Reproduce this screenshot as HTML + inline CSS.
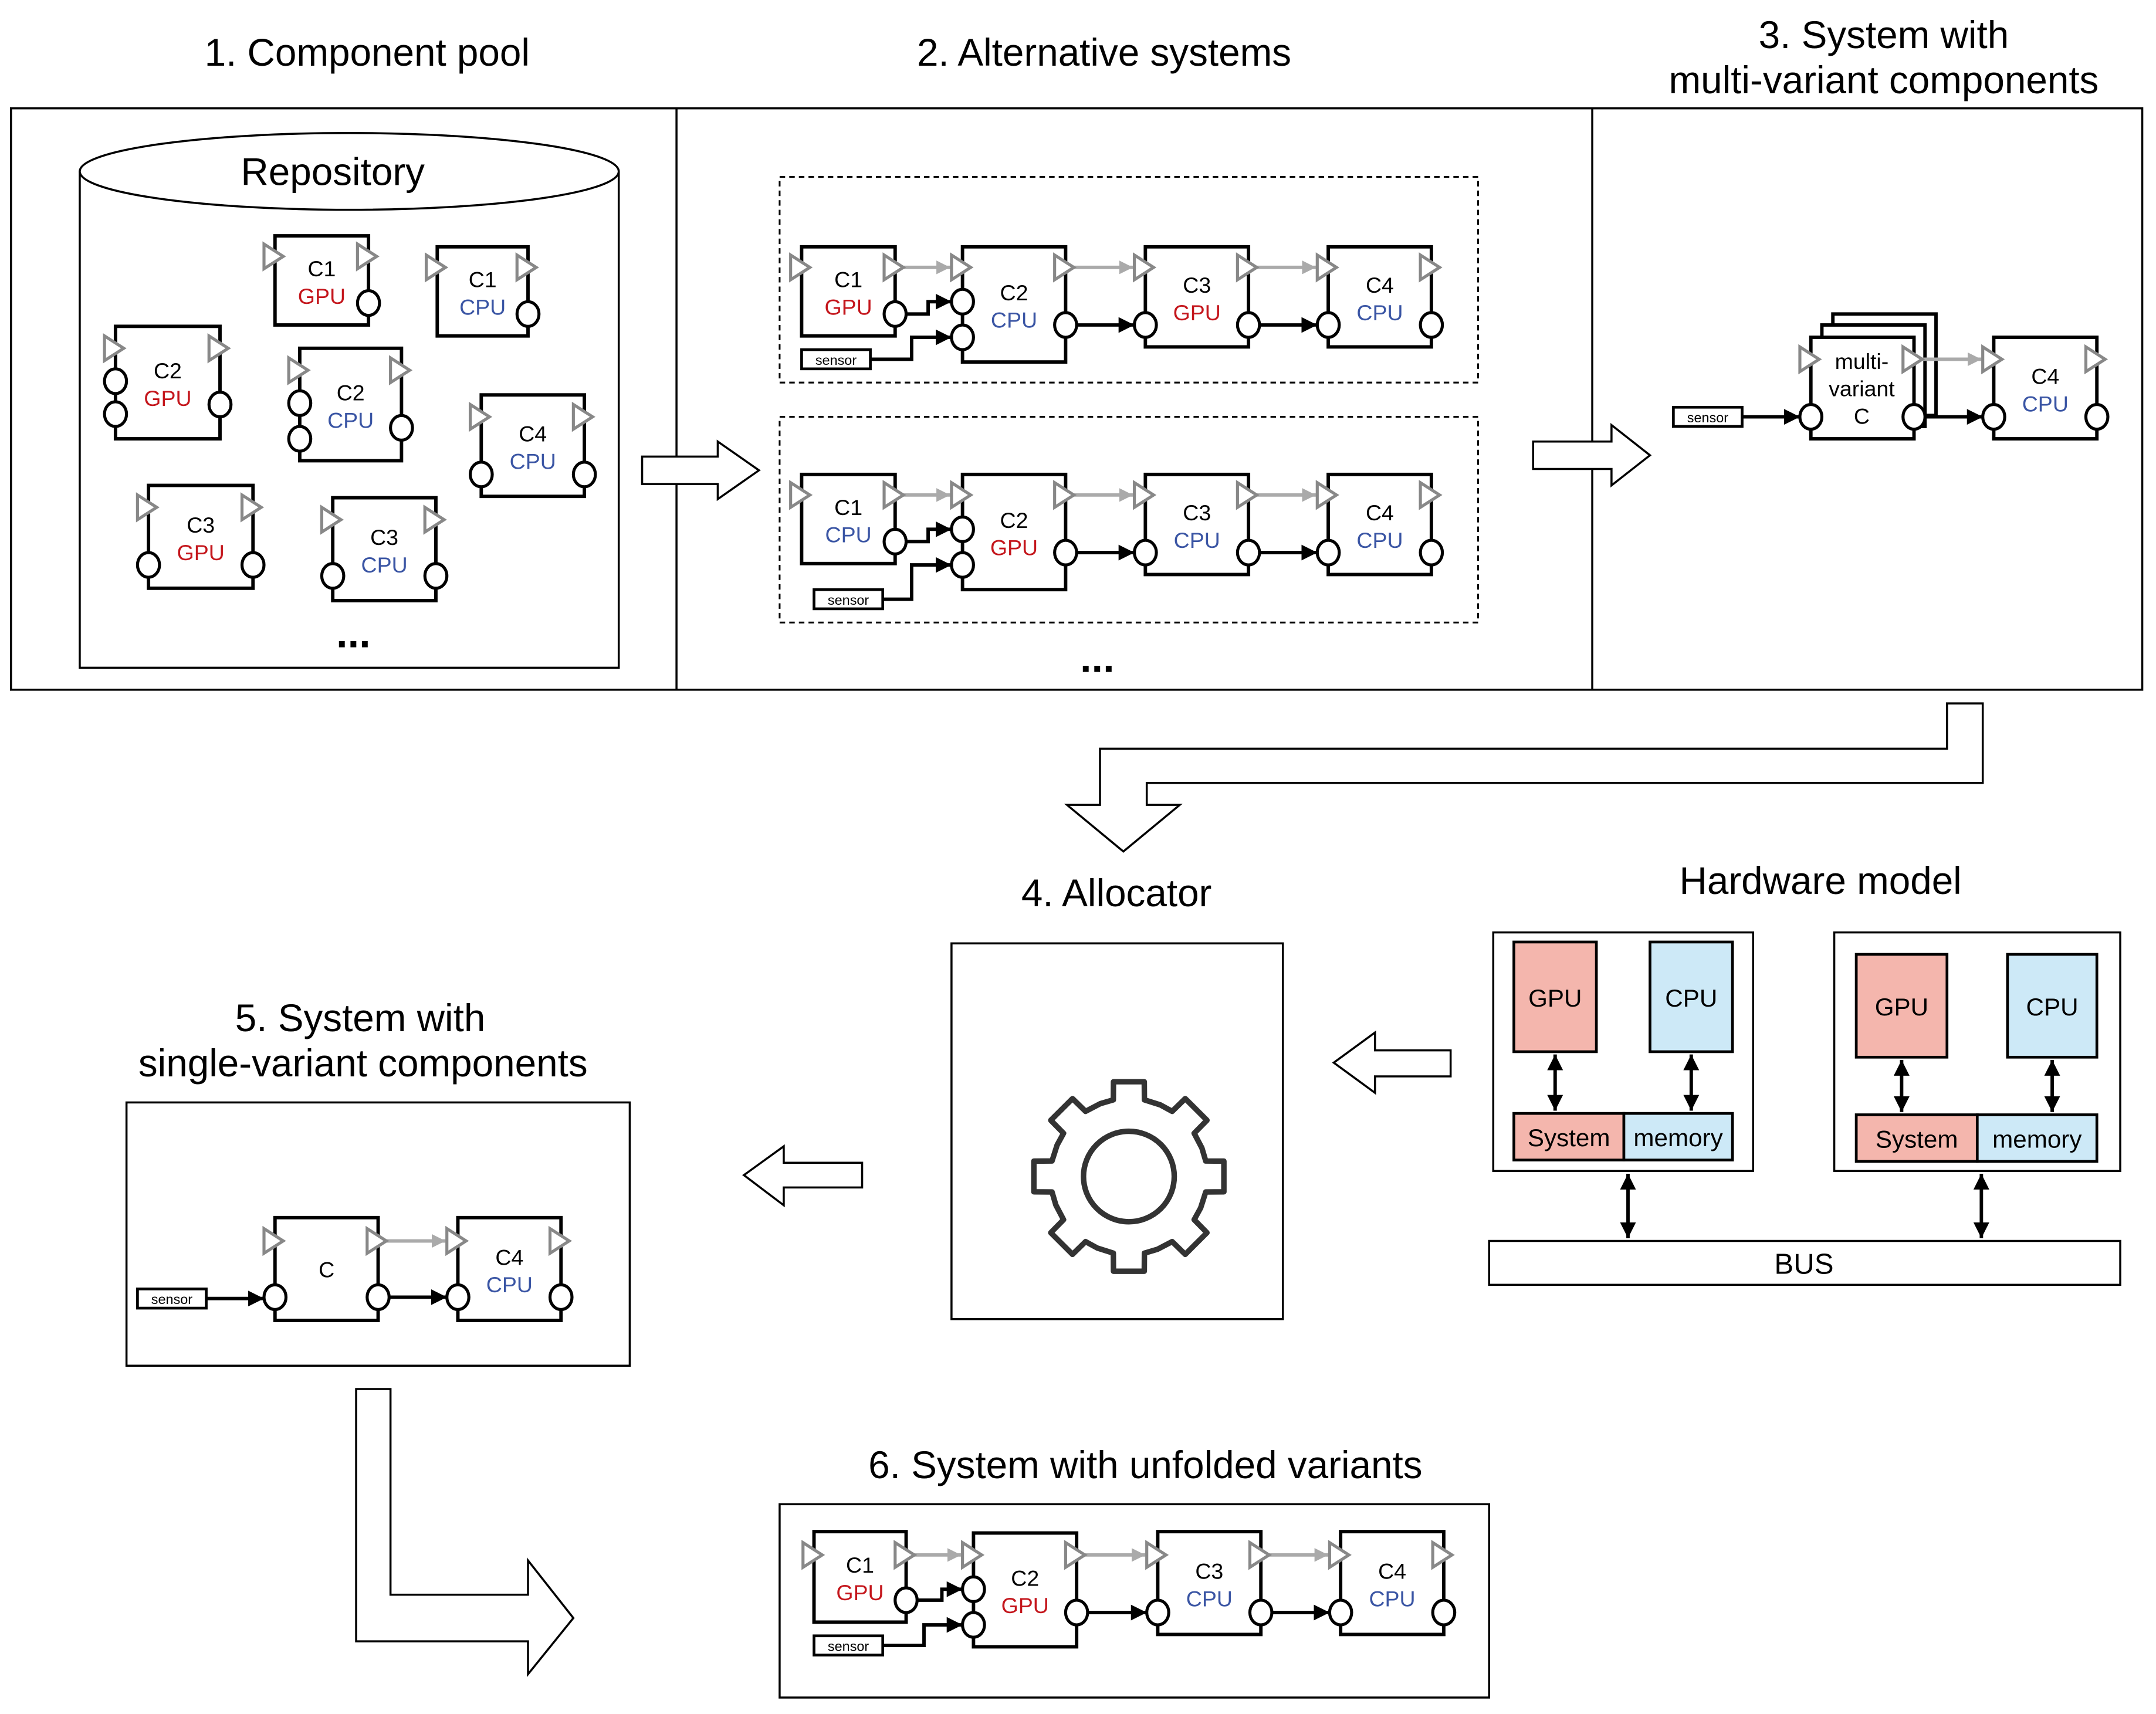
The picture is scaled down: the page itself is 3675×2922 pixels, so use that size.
<!DOCTYPE html>
<html><head><meta charset="utf-8"><style>
html,body{margin:0;padding:0;background:#fff}
svg{display:block}
text{font-family:"Liberation Sans",sans-serif}
</style></head><body>
<svg id="s" width="3675" height="2922" viewBox="0 0 1568 1250" preserveAspectRatio="none" xmlns="http://www.w3.org/2000/svg">
<defs>
<marker id="ab" viewBox="0 0 10 10" refX="10" refY="5" markerWidth="4.6" markerHeight="4.6" orient="auto-start-reverse" markerUnits="strokeWidth"><path d="M0,0L10,5L0,10z" fill="#000"/></marker>
<marker id="ag" viewBox="0 0 10 10" refX="10" refY="5" markerWidth="4" markerHeight="4" orient="auto" markerUnits="strokeWidth"><path d="M0,0L10,5L0,10z" fill="#aaa"/></marker>
</defs>
<g id="g" fill="none" stroke="#000"></g>
</svg>
<script>
const g=document.getElementById('g');let h='';
const RED='#c4161c',BLUE='#3a55a4';
function T(x,y,s,sz,col,anchor,fw){h+=`<text x="${x}" y="${y}" font-size="${sz}" fill="${col||'#000'}" stroke="none" text-anchor="${anchor||'middle'}" font-weight="${fw||'normal'}">${s}</text>`;}
function tri(x,y){h+=`<path d="M${x-8},${y-9}L${x+6},${y}L${x-8},${y+9}z" stroke="#888" stroke-width="2.2" fill="#fff"/>`;}
function circ(x,y){h+=`<ellipse cx="${x}" cy="${y}" rx="8" ry="9" stroke="#000" stroke-width="2.2" fill="#fff"/>`;}
function comp(x1,y1,x2,y2,name,proc,ty,lc,rc){
 h+=`<rect x="${x1}" y="${y1}" width="${x2-x1}" height="${y2-y1}" stroke-width="2.5" fill="#fff"/>`;
 tri(x1,ty);tri(x2,ty);lc.forEach(c=>circ(x1,c));rc.forEach(c=>circ(x2,c));
 const cx=(x1+x2)/2,cy=(y1+y2)/2;
 if(proc){T(cx,cy-3,name,16);T(cx,cy+17,proc,16,proc=='GPU'?RED:BLUE);}else T(cx,cy+6,name,16);
}
function sensor(x,y){h+=`<rect x="${x}" y="${y}" width="50" height="14" stroke-width="2" fill="#fff"/>`;T(x+25,y+11,'sensor',10);}
function bl(pts){h+=`<polyline points="${pts}" stroke-width="2.5" marker-end="url(#ab)"/>`;}
function gl(x1,x2,y){h+=`<line x1="${x1+6}" y1="${y}" x2="${x2-9}" y2="${y}" stroke="#aaa" stroke-width="2.5" marker-end="url(#ag)"/>`;}
function poly(p){h+=`<polygon points="${p}" stroke-width="1.5" fill="#fff"/>`;}
// titles
T(267,48,'1. Component pool',28);T(803,48,'2. Alternative systems',28);
T(1370,35,'3. System with',28);T(1370,68,'multi-variant components',28);
// frame
h+=`<rect x="8" y="79" width="1550" height="424" stroke-width="1.5"/><line x1="492" y1="79" x2="492" y2="503" stroke-width="1.5"/><line x1="1158" y1="79" x2="1158" y2="503" stroke-width="1.5"/>`;
// cylinder
h+=`<path d="M58,125L58,487L450,487L450,125" stroke-width="1.5"/><ellipse cx="254" cy="125" rx="196" ry="28" stroke-width="1.5" fill="#fff"/>`;
T(242,135,'Repository',28);
comp(200,172,268,237,'C1','GPU',187,[],[221]);
comp(318,180,384,245,'C1','CPU',195,[],[229]);
comp(84,238,160,320,'C2','GPU',254,[278,302],[295]);
comp(218,254,292,336,'C2','CPU',270,[294,320],[312]);
comp(350,288,425,362,'C4','CPU',304,[346],[346]);
comp(108,354,184,429,'C3','GPU',370,[412],[412]);
comp(242,363,317,438,'C3','CPU',379,[420],[420]);
T(257,472,'...',30,'#000','middle','bold');
// alternative systems
function row(dy,p1,p2,p3,sx,sy){
 const Y=v=>v+dy;
 gl(651,700,Y(195));gl(775,833,Y(195));gl(908,966,Y(195));
 bl(`659,${Y(229)} 675,${Y(229)} 675,${Y(220)} 692,${Y(220)}`);
 bl(`${sx+50},${sy+7} ${663},${sy+7} 663,${Y(246)} 692,${Y(246)}`);
 bl(`783,${Y(237)} 825,${Y(237)}`);bl(`916,${Y(237)} 958,${Y(237)}`);
 comp(583,Y(180),651,Y(245),'C1',p1,Y(195),[],[Y(229)]);
 comp(700,Y(180),775,Y(264),'C2',p2,Y(195),[Y(220),Y(246)],[Y(237)]);
 comp(833,Y(180),908,Y(253),'C3',p3,Y(195),[Y(237)],[Y(237)]);
 comp(966,Y(180),1041,Y(253),'C4','CPU',Y(195),[Y(237)],[Y(237)]);
 sensor(sx,sy);
}
h+=`<rect x="567" y="129" width="508" height="150" stroke-width="1.3" stroke-dasharray="4,3"/><rect x="567" y="304" width="508" height="150" stroke-width="1.3" stroke-dasharray="4,3"/>`;
row(0,'GPU','CPU','GPU',583,255);
row(166,'CPU','GPU','CPU',592,430);
T(798,490,'...',30,'#000','middle','bold');
// hollow arrows
poly('467,333 522,333 522,322 552,343 522,364 522,353 467,353');
poly('1115,322 1172,322 1172,310 1200,332 1172,354 1172,342 1115,342');
// section 3
h+=`<rect x="1333" y="229" width="75" height="74" stroke-width="2.5" fill="#fff"/><rect x="1325" y="237" width="75" height="74" stroke-width="2.5" fill="#fff"/>`;
sensor(1217,297);
bl('1267,304 1309,304');bl('1400,304 1442,304');gl(1392,1450,262);
comp(1317,246,1392,320,'','',262,[304],[304]);
T(1354,269,'multi-',16);T(1354,289,'variant',16);T(1354,309,'C',16);
comp(1450,246,1525,320,'C4','CPU',262,[304],[304]);
// big bent arrow
poly('1416,513 1442,513 1442,571 834,571 834,587 858,587 817,621 776,587 800,587 800,546 1416,546');
// allocator
T(812,661,'4. Allocator',28);
h+=`<rect x="692" y="688" width="241" height="274" stroke-width="1.5"/>`;
(function(){let cx=821,cy=858,R=70,r=57,n=8,p='';for(let i=0;i<n;i++){const a=i*2*Math.PI/n;const w=0.2,w2=0.16;
 const pts=[[r,a-Math.PI/n+0.02],[r,a-w],[R,a-w2],[R,a+w2],[r,a+w]];pts.forEach(([rr,aa])=>{p+=(p?'L':'M')+(cx+rr*Math.cos(aa)).toFixed(1)+','+(cy+rr*Math.sin(aa)).toFixed(1);});}
 p+='z';h+=`<path d="${p}" stroke="#333" stroke-width="4" fill="#fff" stroke-linejoin="round"/><circle cx="${cx}" cy="${cy}" r="33" stroke="#333" stroke-width="4"/>`;})();
// hardware
T(1324,652,'Hardware model',28);
function hw(x1,x2,y1,y2,gx,cx,by,bd){
 h+=`<rect x="${x1}" y="680" width="${x2-x1}" height="174" stroke-width="1.5"/>`;
 const gw=gx==1101?60:66,cw=gx==1101?60:65;
 h+=`<rect x="${gx}" y="${y1}" width="${gw}" height="${y2-y1}" fill="#f4b6ad" stroke-width="2"/><rect x="${cx}" y="${y1}" width="${cw}" height="${y2-y1}" fill="#cde9f7" stroke-width="2"/>`;
 T(gx+gw/2,(y1+y2)/2+7,'GPU',18);T(cx+cw/2,(y1+y2)/2+7,'CPU',18);
 h+=`<rect x="${gx}" y="${by}" width="${bd-gx}" height="34" fill="#f4b6ad" stroke-width="2"/><rect x="${bd}" y="${by}" width="${cx+cw-bd}" height="34" fill="#cde9f7" stroke-width="2"/>`;
 T((gx+bd)/2,by+24,'System',18);T((bd+cx+cw)/2,by+24,'memory',18);
 h+=`<line x1="${gx+gw/2}" y1="${y2+2}" x2="${gx+gw/2}" y2="${by-2}" stroke-width="2.5" marker-start="url(#ab)" marker-end="url(#ab)"/>`;
 h+=`<line x1="${cx+cw/2}" y1="${y2+2}" x2="${cx+cw/2}" y2="${by-2}" stroke-width="2.5" marker-start="url(#ab)" marker-end="url(#ab)"/>`;
}
hw(1086,1275,687,767,1101,1200,812,1181);
hw(1334,1542,696,771,1350,1460,813,1438);
h+=`<rect x="1083" y="905" width="459" height="32" stroke-width="1.5"/>`;T(1312,929,'BUS',21);
h+=`<line x1="1184" y1="856" x2="1184" y2="903" stroke-width="2.5" marker-start="url(#ab)" marker-end="url(#ab)"/><line x1="1441" y1="856" x2="1441" y2="903" stroke-width="2.5" marker-start="url(#ab)" marker-end="url(#ab)"/>`;
poly('1055,766 1000,766 1000,753 970,775 1000,797 1000,785 1055,785');
poly('627,848 570,848 570,836 541,857 570,879 570,866 627,866');
// section 5
T(262,752,'5. System with',28);T(264,785,'single-variant components',28);
h+=`<rect x="92" y="804" width="366" height="192" stroke-width="1.5"/>`;
sensor(100,940);bl('150,947 192,947');bl('283,946 325,946');gl(275,333,905);
comp(200,888,275,963,'C','',905,[946],[946]);
comp(333,888,408,963,'C4','CPU',905,[946],[946]);
poly('259,1013 284,1013 284,1163 384,1163 384,1138 417,1180 384,1221 384,1197 259,1197');
// section 6
T(833,1078,'6. System with unfolded variants',28);
h+=`<rect x="567" y="1097" width="516" height="141" stroke-width="1.5"/>`;
gl(659,708,1134);gl(783,842,1134);gl(917,975,1134);
bl('667,1167 685,1167 685,1159 700,1159');sensor(592,1193);bl('642,1200 672,1200 672,1185 700,1185');
bl('791,1176 834,1176');bl('925,1176 967,1176');
comp(592,1117,659,1183,'C1','GPU',1134,[],[1167]);
comp(708,1118,783,1201,'C2','GPU',1134,[1159,1185],[1176]);
comp(842,1117,917,1192,'C3','CPU',1134,[1176],[1176]);
comp(975,1117,1050,1192,'C4','CPU',1134,[1176],[1176]);
g.innerHTML=h;
</script>
</body></html>
